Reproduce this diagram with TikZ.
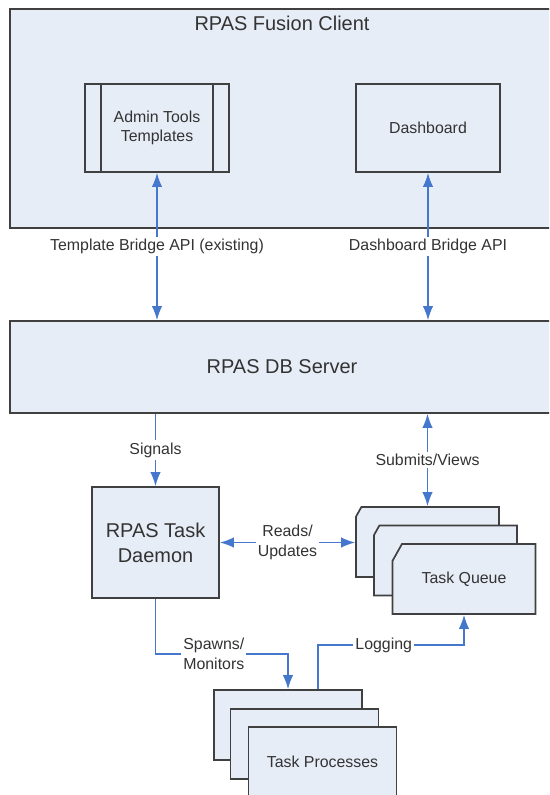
\documentclass[tikz,border=0pt]{standalone}
\usepackage{fontspec}
\setmainfont{Liberation Sans}
\usetikzlibrary{arrows.meta, positioning, shapes.misc}

\definecolor{boxfill}{HTML}{E7EDF7}
\definecolor{boxline}{HTML}{404040}
\definecolor{flow}{HTML}{4578CC}

\begin{document}
\begin{tikzpicture}[x = 0.025cm, y = -0.025cm, > = {Latex[length = 0.35cm, width = 0.26cm]},
	box/.style = {draw = boxline, line width = 1.2pt, fill = boxfill, text = black!80, align = center,
		font = \fontsize{11.3}{13.7}\selectfont},
	big/.style = {font = \fontsize{14.2}{17.8}\selectfont},
	card/.style = {box, chamfered rectangle, chamfered rectangle corners = north west,
		chamfered rectangle angle = 29.25, chamfered rectangle xsep = 0.35cm,
		minimum width = 3.575cm, minimum height = 1.75cm},
	link/.style = {flow, line width = 1pt},
	tag/.style = {fill = white, text = black!80, inner sep = 1.5pt, align = center,
		font = \fontsize{11.3}{13.7}\selectfont}]

	% Frame

	\useasboundingbox (0, 0) rectangle (549, 795);
	\clip (0, 0) rectangle (549, 795);

	% Client

	\node [box, minimum width = 13.6cm, minimum height = 5.475cm] (client) at (282, 118.5) {};
	\node [big, text = black!80, below = 0.08cm of client.north] (clienttitle) {RPAS Fusion Client};

	\node [box, minimum width = 3.6cm, minimum height = 2.2cm] (admin) at (157, 128) {Admin Tools\\Templates};
	\draw [boxline, line width = 1.2pt] ([xshift = 0.43cm] admin.north west) -- ([xshift = 0.43cm] admin.south west)
		([xshift = -0.43cm] admin.north east) -- ([xshift = -0.43cm] admin.south east);

	\node [box, minimum width = 3.6cm, minimum height = 2.2cm] (dash) at (428, 128) {Dashboard};

	% Server

	\node [box, big, minimum width = 13.6cm, minimum height = 2.3cm] (server) at (282, 367) {RPAS DB Server};

	% Daemon, queue, processes

	\node [box, big, minimum width = 3.175cm, minimum height = 2.775cm] (daemon) at (155.5, 542.5) {RPAS Task\\Daemon};

	\node [card] (queue1) at (427.5, 542) {};
	\node [card] (queue2) at (445.5, 560.5) {};
	\node [card] (queue3) at (464, 579) {Task Queue};

	\node [box, minimum width = 3.7cm, minimum height = 1.75cm] (proc1) at (288, 725) {};
	\node [box, minimum width = 3.7cm, minimum height = 1.75cm] (proc2) at (304.5, 744) {};
	\node [box, minimum width = 3.7cm, minimum height = 1.75cm] (proc3) at (322.5, 762) {Task Processes};

	% Connectors

	\draw [link, <->] (admin.south) -- node [tag] {Template Bridge API (existing)} (admin.south |- server.north);
	\draw [link, <->] (dash.south) -- node [tag] {Dashboard Bridge API} (dash.south |- server.north);

	\draw [link, ->] (daemon.north |- server.south) -- node [tag] {Signals} (daemon.north);
	\draw [link, <->] (queue1.north |- server.south) -- node [tag] {Submits/Views} (queue1.north);
	\draw [link, <->] (daemon.east) -- node [tag] {Reads/\\Updates} (daemon.east -| queue1.west);

	\draw [link, ->] (daemon.south) -- ++(0, 55) -| node [tag, pos = 0.22] {Spawns/\\Monitors} (proc1.north);
	\draw [link, ->] ([xshift = 0.75cm] proc1.north) -- ++(0, -44) -| node [tag, pos = 0.225] {Logging} (queue3.south);

\end{tikzpicture}
\end{document}
